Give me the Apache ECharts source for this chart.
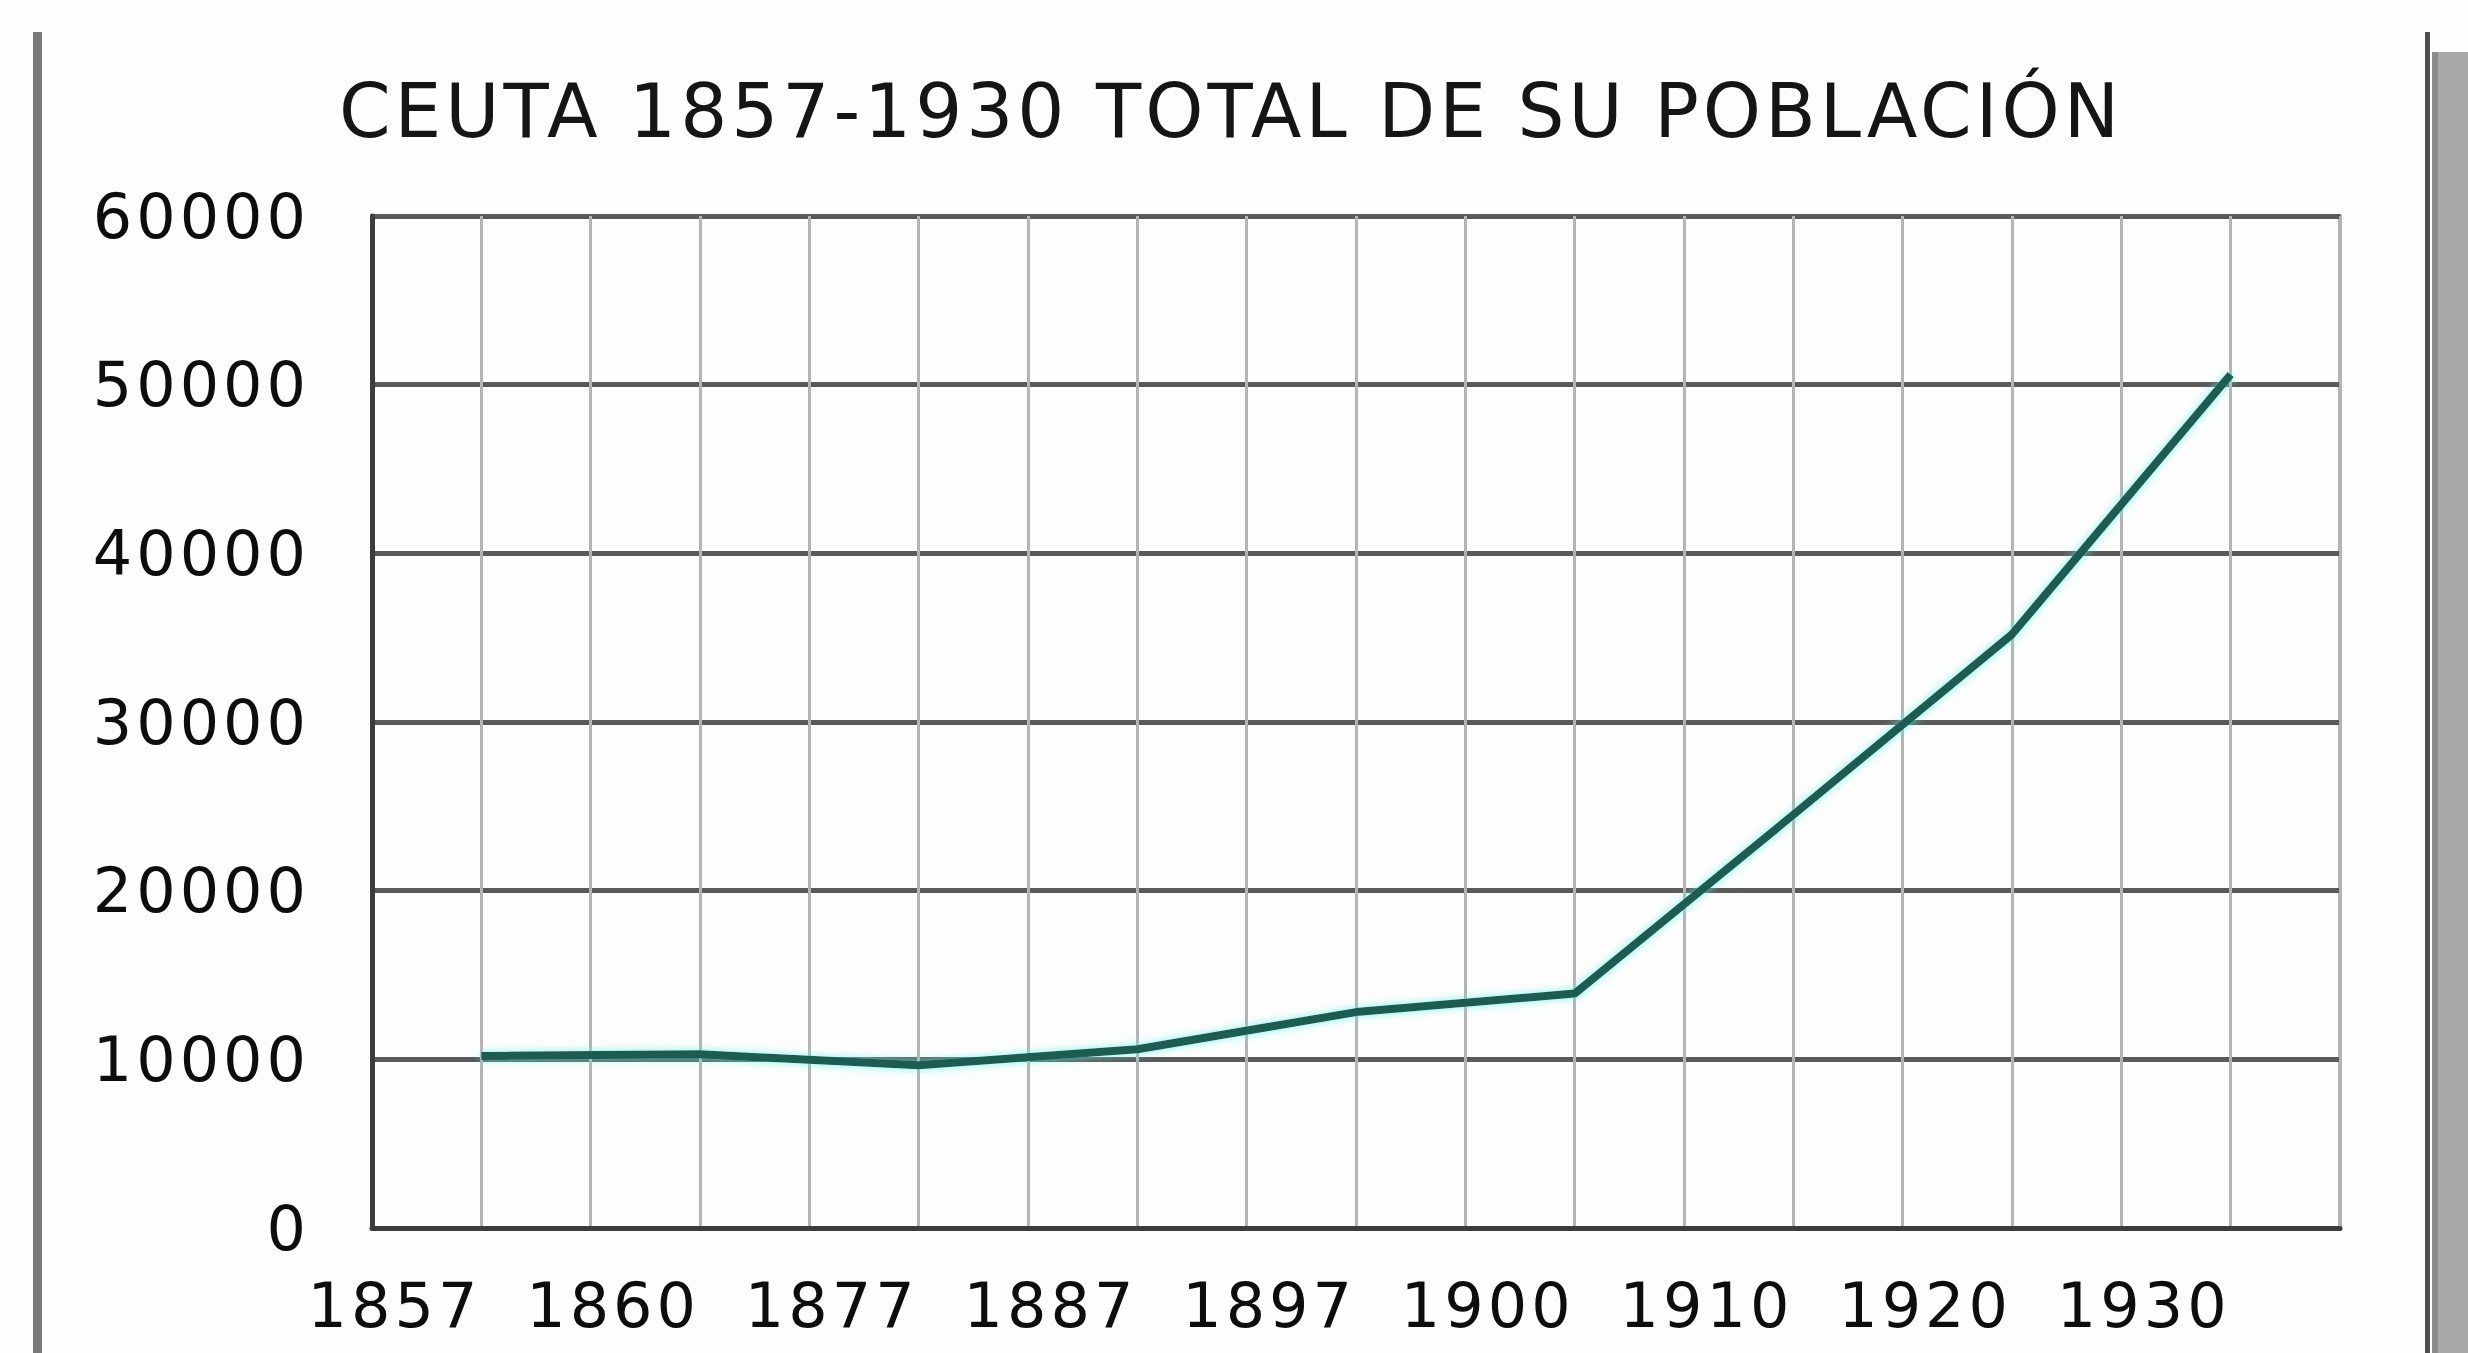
<!DOCTYPE html>
<html>
<head>
<meta charset="utf-8">
<style>
  html, body { margin: 0; padding: 0; background: #fdfdfd; }
  #chart { width: 2468px; height: 1353px; }
  #chart svg text { letter-spacing: 4px; }
</style>
<script src="https://cdn.jsdelivr.net/npm/echarts@6/dist/echarts.min.js"></script>
</head>
<body>
<div id="chart"></div>
<script>
// ---- Data ----
const titleText = 'CEUTA 1857-1930 TOTAL DE SU POBLACIÓN';
const years = ['1857', '1860', '1877', '1887', '1897', '1900', '1910', '1920', '1930'];
const population = [10200, 10300, 9650, 10600, 12800, 13900, 24500, 35200, 50600];
const yTicks = [0, 10000, 20000, 30000, 40000, 50000, 60000];

// Each year sits on every second vertical gridline (odd slots 1..17 of 18)
const slotCount = years.length * 2;
const seriesData = population.map((v, i) => [2 * i + 1, v]);

const FONT = 'DejaVu Sans';
const chart = echarts.init(document.getElementById('chart'), null, { renderer: 'svg' });

chart.setOption({
  backgroundColor: '#fdfdfd',
  animation: false,
  title: {
    text: titleText,
    left: 1226,
    textAlign: 'center',
    top: 69,
    textStyle: { fontFamily: FONT, fontSize: 74, fontWeight: 'normal', color: '#151515' }
  },
  graphic: [
    { type: 'rect', shape: { x: 33, y: 32, width: 9, height: 1330 }, style: { fill: '#7a7a7a' } },
    { type: 'rect', shape: { x: 2425, y: 32, width: 5, height: 1330 }, style: { fill: '#505050' } },
    { type: 'rect', shape: { x: 2432, y: 52, width: 40, height: 1310 }, style: { fill: '#a9a9a9' } },
    { type: 'rect', shape: { x: 2432, y: 52, width: 6, height: 1310 }, style: { fill: '#8c8c8c' } }
  ],
  grid: {
    left: 372, right: 128, top: 216, bottom: 125,
    show: true, borderColor: '#6a6a6a', borderWidth: 3, backgroundColor: 'transparent'
  },
  xAxis: {
    type: 'value',
    min: 0, max: slotCount, interval: 1,
    axisLine: { show: true, onZero: false, lineStyle: { color: '#3c3c3c', width: 5 } },
    axisTick: { show: false },
    splitLine: { show: true, lineStyle: { color: '#b4b4b4', width: 3 } },
    axisLabel: {
      margin: 46,
      align: 'right',
      fontFamily: FONT, fontSize: 62, color: '#0d0d0d',
      formatter: v => (v % 2 === 1 ? years[(v - 1) / 2] : '')
    }
  },
  yAxis: {
    type: 'value',
    min: yTicks[0], max: yTicks[yTicks.length - 1], interval: yTicks[1] - yTicks[0],
    axisLine: { show: true, lineStyle: { color: '#3c3c3c', width: 5 } },
    axisTick: { show: false },
    splitLine: { show: true, lineStyle: { color: '#5a5a5a', width: 5 } },
    axisLabel: { margin: 62, fontFamily: FONT, fontSize: 62, color: '#0d0d0d', formatter: v => String(v) }
  },
  series: [{
    type: 'line',
    data: seriesData,
    symbol: 'none',
    lineStyle: {
      color: '#1b5b52', width: 8,
      shadowColor: 'rgba(100,240,225,0.8)', shadowBlur: 8
    },
    z: 5
  }]
});
</script>
</body>
</html>
